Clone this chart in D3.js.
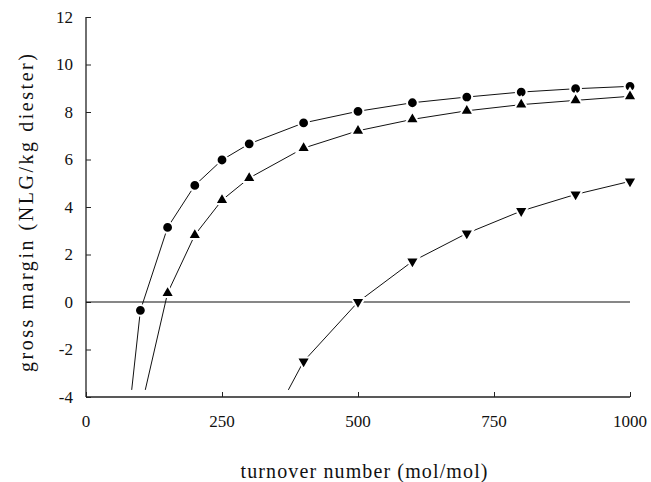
<!DOCTYPE html>
<html>
<head>
<meta charset="utf-8">
<script src="https://cdn.jsdelivr.net/npm/d3@7/dist/d3.min.js"></script>
</head>
<body style="margin:0">
<div id="chart"></div>
<script>
'use strict'

// data
var xTicks = [0, 250, 500, 750, 1000]
var yTicks = [-4, -2, 0, 2, 4, 6, 8, 10, 12]

var circleX = [100, 150, 200, 250, 300, 400, 500, 600, 700, 800, 900, 1000]
var circleY = [-0.35, 3.14, 4.91, 5.98, 6.66, 7.54, 8.03, 8.39, 8.63, 8.84, 8.98, 9.08]
var circleTail = [[84, -3.7], [100, -0.35]]

var upX = [150, 200, 250, 300, 400, 500, 600, 700, 800, 900, 1000]
var upY = [0.38, 2.82, 4.29, 5.22, 6.48, 7.21, 7.69, 8.05, 8.31, 8.49, 8.66]
var upTail = [[109, -3.7], [150, 0.38]]

var downX = [400, 500, 600, 700, 800, 900, 1000]
var downY = [-2.5, 0.0, 1.71, 2.89, 3.83, 4.53, 5.08]
var downTail = [[372, -3.7], [400, -2.5]]

var width = 651
var height = 482
var margin = { left: 86, right: 21, top: 17, bottom: 85 }

var svg = d3.select('#chart').append('svg')
  .attr('width', width)
  .attr('height', height)
  .attr('font-family', 'Liberation Serif')

var x = d3.scaleLinear().domain([0, 1000]).range([margin.left, width - margin.right])
var y = d3.scaleLinear().domain([-4, 12]).range([height - margin.bottom, margin.top])

function label (sel, size) {
  return sel.attr('font-family', 'Liberation Serif')
    .attr('font-size', size)
    .attr('fill', '#111')
}

// ticks point inward
svg.append('g')
  .attr('transform', 'translate(0,' + y(-4) + ')')
  .call(d3.axisTop(x).tickValues(xTicks).tickSize(5).tickFormat(''))
  .call(function (g) { g.select('.domain').remove() })
svg.append('g')
  .attr('transform', 'translate(' + x(0) + ',0)')
  .call(d3.axisRight(y).tickValues(yTicks).tickSize(5).tickFormat(''))
  .call(function (g) { g.select('.domain').remove() })
svg.selectAll('.tick line').attr('stroke', '#222')

svg.append('line')
  .attr('x1', x(0)).attr('x2', x(1000))
  .attr('y1', y(-4)).attr('y2', y(-4))
  .attr('stroke', '#222').attr('stroke-width', 1.3)
svg.append('line')
  .attr('x1', x(0)).attr('x2', x(0))
  .attr('y1', y(-4)).attr('y2', y(12))
  .attr('stroke', '#222').attr('stroke-width', 1.3)

svg.selectAll('text.xt')
  .data(xTicks)
  .enter().append('text')
  .attr('class', 'xt')
  .attr('x', function (d) { return x(d) })
  .attr('y', y(-4) + 30)
  .attr('text-anchor', 'middle')
  .call(label, 17)
  .text(function (d) { return d })

svg.selectAll('text.yt')
  .data(yTicks)
  .enter().append('text')
  .attr('class', 'yt')
  .attr('x', x(0) - 13)
  .attr('y', function (d) { return y(d) + 5.5 })
  .attr('text-anchor', 'end')
  .call(label, 17)
  .text(function (d) { return d })

// zero line
svg.append('line')
  .attr('x1', x(0)).attr('x2', x(1000))
  .attr('y1', y(0)).attr('y2', y(0))
  .attr('stroke', '#111').attr('stroke-width', 1.2)

// titles
svg.append('text')
  .attr('x', (x(0) + x(1000)) / 2 + 6)
  .attr('y', 478)
  .attr('text-anchor', 'middle')
  .attr('textLength', 247)
  .attr('lengthAdjust', 'spacing')
  .call(label, 20)
  .text('turnover number (mol/mol)')

svg.append('text')
  .attr('transform', 'translate(33,213) rotate(-90)')
  .attr('text-anchor', 'middle')
  .attr('textLength', 318)
  .attr('lengthAdjust', 'spacing')
  .call(label, 20)
  .text('gross margin (NLG/kg diester)')

// series
var line = d3.line()
  .x(function (d) { return x(d[0]) })
  .y(function (d) { return y(d[1]) })

function zip (xs, ys) {
  return xs.map(function (v, i) { return [v, ys[i]] })
}

var series = [
  { pts: zip(circleX, circleY), tail: circleTail, shape: 'circle' },
  { pts: zip(upX, upY), tail: upTail, shape: 'up' },
  { pts: zip(downX, downY), tail: downTail, shape: 'down' }
]

var tri = d3.symbol().type(d3.symbolTriangle).size(80)

series.forEach(function (s) {
  var g = svg.append('g')
  g.append('path')
    .attr('d', line(s.tail))
    .attr('fill', 'none').attr('stroke', '#111').attr('stroke-width', 1)
  g.append('path')
    .attr('d', line(s.pts))
    .attr('fill', 'none').attr('stroke', '#111').attr('stroke-width', 1)

  var marks = g.selectAll('.m')
    .data(s.pts)
    .enter()
  if (s.shape === 'circle') {
    marks.append('circle')
      .attr('cx', function (d) { return x(d[0]) })
      .attr('cy', function (d) { return y(d[1]) })
      .attr('r', 5.4)
      .attr('fill', '#000').attr('stroke', '#fff').attr('stroke-width', 2)
  } else {
    marks.append('path')
      .attr('d', tri)
      .attr('transform', function (d) {
        return 'translate(' + x(d[0]) + ',' + y(d[1]) + ')' + (s.shape === 'down' ? ' rotate(180)' : '')
      })
      .attr('fill', '#000').attr('stroke', '#fff').attr('stroke-width', 2)
  }
})
</script>
</body>
</html>
